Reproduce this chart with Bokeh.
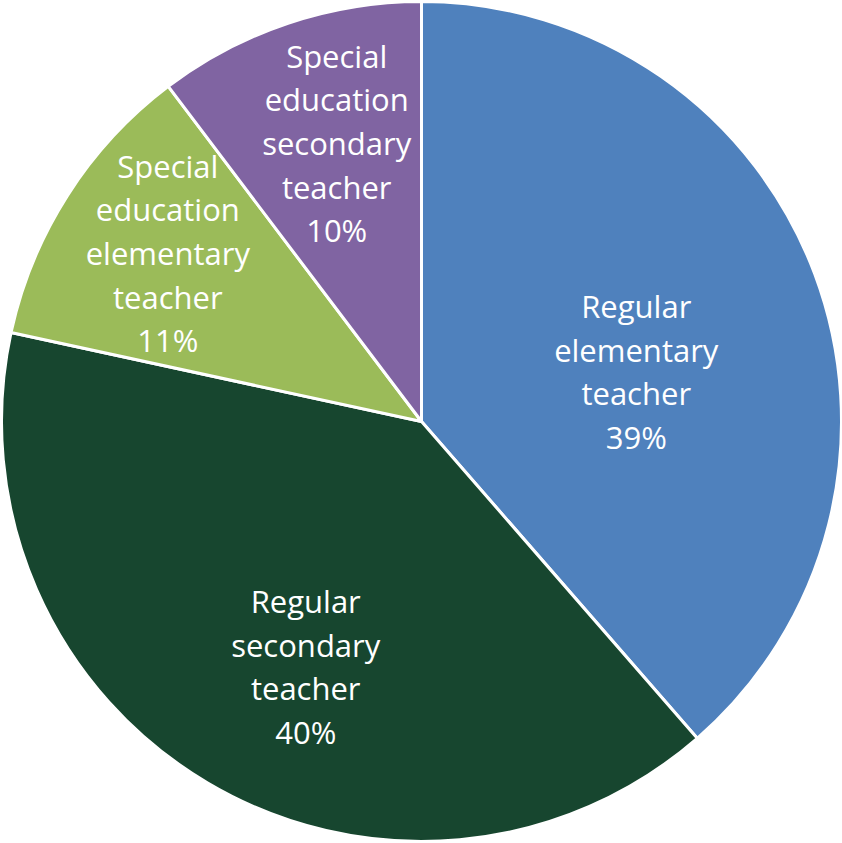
import numpy as np
from bokeh.plotting import figure
from bokeh.models import ColumnDataSource, Range1d
from bokeh.core.properties import value
from bokeh.embed import file_html
from bokeh.resources import INLINE

# Data
categories = ["Regular elementary teacher", "Regular secondary teacher",
              "Special education elementary teacher", "Special education secondary teacher"]
label_lines = [["Regular", "elementary", "teacher"], ["Regular", "secondary", "teacher"],
               ["Special", "education", "elementary", "teacher"],
               ["Special", "education", "secondary", "teacher"]]
shares = [38.6, 39.8, 11.3, 10.3]
colors = ["#4F81BD", "#17462F", "#9BBB59", "#8064A2"]

# Layout parameters (label placement)
R = 420.0
LINE_H = 43.7
label_r = [0.525, 0.645, 0.725, 0.693]
label_nudge_deg = [7.4, -5.3, 1.0, 1.6]

vals = np.array(shares, dtype=float)
frac = vals / vals.sum()
cum_end = np.cumsum(frac)
cum_start = cum_end - frac
start_angle = np.pi / 2 - cum_start * 2 * np.pi
end_angle = np.pi / 2 - cum_end * 2 * np.pi
mid = (cum_start + cum_end) / 2 * 360 + np.array(label_nudge_deg)
mid_rad = np.deg2rad(mid)
lx = np.sin(mid_rad) * R * np.array(label_r)
ly = np.cos(mid_rad) * R * np.array(label_r)

tx, ty, tt = [], [], []
for k, (lines, v) in enumerate(zip(label_lines, shares)):
    all_lines = lines + [f"{round(v):.0f}%"]
    n = len(all_lines)
    for i, s in enumerate(all_lines):
        tx.append(lx[k])
        ty.append(ly[k] + ((n - 1) / 2 - i) * LINE_H)
        tt.append(s)

src = ColumnDataSource(dict(start=start_angle, end=end_angle, color=colors, cat=categories))
tsrc = ColumnDataSource(dict(x=tx, y=ty, text=tt))

p = figure(width=842, height=843, output_backend="svg", toolbar_location=None,
           x_range=Range1d(-421, 421), y_range=Range1d(-422, 421),
           min_border=0, min_border_left=0, min_border_right=0,
           min_border_top=0, min_border_bottom=0)
p.axis.visible = False
p.grid.visible = False
p.outline_line_color = None
p.background_fill_color = "white"

p.wedge(x=0, y=0, radius=R, start_angle="start", end_angle="end", direction="clock",
        fill_color="color", line_color="white", line_width=3, source=src)

p.text(x="x", y="y", text="text", source=tsrc, text_align="center",
       text_baseline="middle", text_color="white", text_font=value("Open Sans"),
       text_font_size="31px")

open("out.html", "w").write(file_html(p, INLINE))
